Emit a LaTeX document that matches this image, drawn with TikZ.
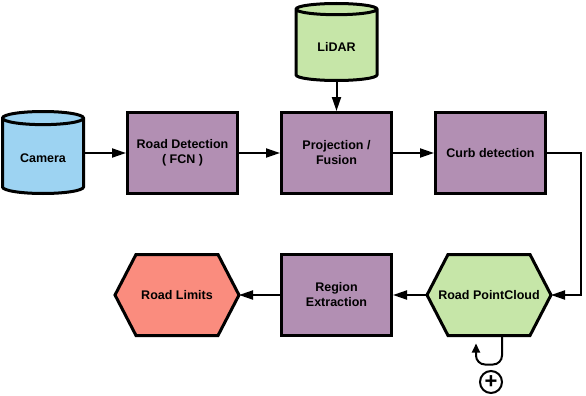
\documentclass[tikz,border=0pt]{standalone}
\usepackage{fontspec}
\setmainfont{Liberation Sans}
\usepackage{tikz}
\usetikzlibrary{arrows.meta,positioning,shapes.geometric,backgrounds}

\definecolor{camblue}{HTML}{9DD3F2}
\definecolor{lidargreen}{HTML}{C6E6A8}
\definecolor{boxpurple}{HTML}{B28FB3}
\definecolor{limitred}{HTML}{FA8C7E}

\begin{document}
\begin{tikzpicture}[
  x=1pt, y=-1pt,
  node distance=41pt,
  font=\fontsize{12.5}{15}\selectfont\bfseries,
  box/.style={draw, line width=3pt, fill=boxpurple, align=center, minimum width=110pt, minimum height=81pt},
  store/.style={draw, line width=3pt, cylinder, shape border rotate=90, aspect=0.25, minimum width=81pt, minimum height=82pt},
  hexa/.style={outer sep=0pt, minimum width=124pt, minimum height=81pt},
  hexline/.style={draw, line width=3pt},
  arrow/.style={-{Triangle[length=14pt, width=9pt]}, line width=2pt}
]
\useasboundingbox (0,0) rectangle (586,396);
\node[store, fill=camblue, anchor=shape center] (camera) at (43,152.5) {Camera};
\node[box] (detect) at (182.5,153) {Road Detection\\( FCN )};
\node[box, right=of detect] (fusion) {Projection /\\Fusion};
\node[box, right=of fusion] (curb) {Curb detection};
\node[store, fill=lidargreen, minimum height=77pt, above=29pt of fusion] (lidar) {LiDAR};
\node[box, below=58pt of fusion] (region) {Region\\Extraction};
\node[hexa, right=34pt of region] (cloud) {Road PointCloud};
\node[hexa, left=of region] (limits) {Road Limits};
\node[circle, draw, line width=2pt, minimum size=22pt, inner sep=0pt, font=\fontsize{22}{22}\selectfont\bfseries] (plus) at (491,382) {+};
% hexagon outlines
\begin{scope}[on background layer]
\foreach \n/\c in {cloud/lidargreen, limits/limitred}
  \draw[hexline, fill=\c] (\n.west) -- ([xshift=21pt]\n.north west) -- ([xshift=-21pt]\n.north east) -- (\n.east)
    -- ([xshift=-21pt]\n.south east) -- ([xshift=21pt]\n.south west) -- cycle;
\end{scope}
\draw[arrow] (camera.east |- detect.west) -- (detect.west);
\draw[arrow] (detect) -- (fusion);
\draw[arrow] (fusion) -- (curb);
\draw[arrow] (lidar) -- (fusion);
\draw[arrow] (curb.east) -- ++(34,0) |- (cloud.east);
\draw[arrow] (cloud) -- (region);
\draw[arrow] (region) -- (limits);
\draw[arrow, -{Triangle[length=9pt, width=8pt]}, rounded corners=9pt] ([xshift=13pt]cloud.south) -- ++(0,29) -| ([xshift=-13pt, yshift=-8pt]cloud.south);
\end{tikzpicture}
\end{document}
